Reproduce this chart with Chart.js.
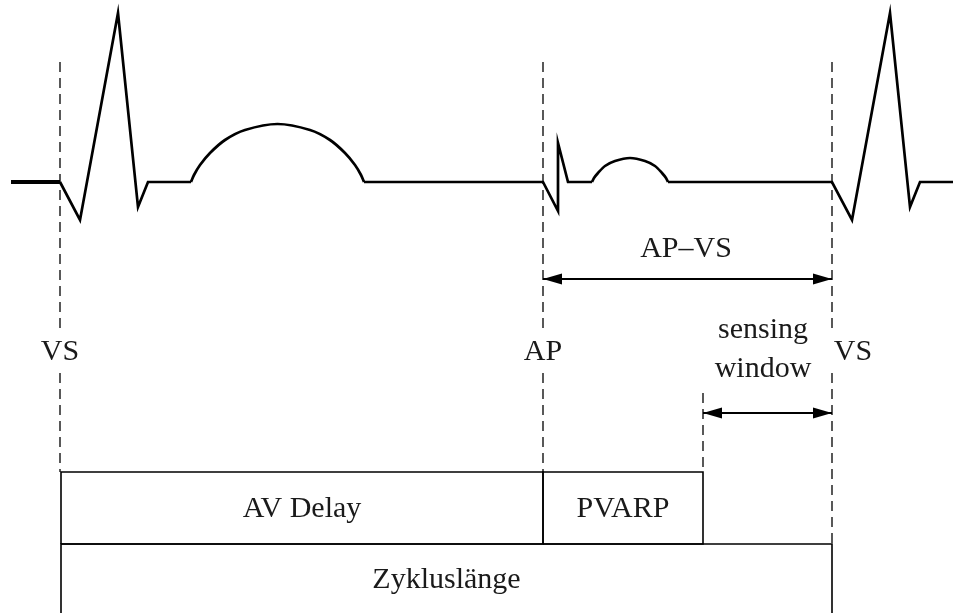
<!DOCTYPE html>
<html>
<head>
<meta charset="utf-8">
<script src="https://cdn.jsdelivr.net/npm/chart.js@4.4.1/dist/chart.umd.min.js"></script>
<style>
  html, body { margin: 0; padding: 0; background: #fff; }
  #wrap { width: 953px; height: 613px; }
</style>
</head>
<body>
<div id="wrap"><canvas id="c" width="953" height="613"></canvas></div>
<script>
// ---- Data (time units, origin at first VS; amplitude, baseline = 0) ----
const leadInT  = [-49, 0];
const leadInA  = [0, 0];
const qrs1T    = [0, 20, 58, 78, 88, 131];
const qrs1A    = [0, -38, 169, -25, 0, 0];
const tWaveT   = [131, 134, 140, 150, 165, 185, 217.5, 250, 270, 285, 295, 301, 304];
const tWaveA   = [0, 7, 17, 29, 42, 52, 58, 52, 42, 29, 17, 7, 0];
const apT      = [304, 483, 498, 498, 508, 532];
const apA      = [0, 0, -29, 39, 0, 0];
const pWaveT   = [532, 534, 538, 545, 555, 570, 585, 595, 602, 606, 608];
const pWaveA   = [0, 4, 9, 16, 21, 24, 21, 16, 9, 4, 0];
const qrs2T    = [608, 772, 792, 830, 850, 860, 893];
const qrs2A    = [0, 0, -38, 169, -25, 0, 0];

const eventNames = ['VS', 'AP', 'VS'];
const eventTimes = [0, 483, 772];
const eventLabelOffset = [0, 0, 21];
const eventLineBottom = [-290, -290, -362];
const eventLineTop = 120;
const eventGap = [-148, -191];
const eventLabelAmp = -178;

const pvarpEnd = 643;
const pvarpLineRange = [-211, -290];

const intervalNames = ['AV Delay', 'PVARP', 'Zykluslänge'];
const intervalStart = [1, 483, 1];
const intervalEnd   = [483, 643, 772];
const intervalRow   = [0, 0, 1];
const rowTop    = [-290, -362];
const rowBottom = [-362, -470];
const rowLabelAmp = [-335, -406];

const measureNames = [['AP–VS'], ['sensing', 'window']];
const measureStart = [483, 643];
const measureEnd   = [772, 772];
const measureAmp   = [-97, -231];
const measureLabelAmp = [[-75], [-156, -195]];
const measureLabelT = [626, 703];

// ---- Build datasets ----
const zip = (t, a) => t.map((v, i) => ({ x: v, y: a[i] }));
const ink = '#000';
const datasets = [];

datasets.push({ data: zip(leadInT, leadInA), borderColor: ink, borderWidth: 4, tension: 0 });
[[qrs1T, qrs1A], [apT, apA], [qrs2T, qrs2A]].forEach(([t, a]) =>
  datasets.push({ data: zip(t, a), borderColor: ink, borderWidth: 2.7, tension: 0 }));
[[tWaveT, tWaveA], [pWaveT, pWaveA]].forEach(([t, a]) =>
  datasets.push({ data: zip(t, a), borderColor: ink, borderWidth: 2.7, tension: 0.3 }));

// dashed event lines with a gap for the label
eventTimes.forEach((t, i) => {
  datasets.push({
    data: [{ x: t, y: eventLineTop }, { x: t, y: eventGap[0] }, { x: t, y: null },
           { x: t, y: eventGap[1] }, { x: t, y: eventLineBottom[i] }],
    borderColor: ink, borderWidth: 1.3, borderDash: [10, 6], spanGaps: false, tension: 0
  });
});
datasets.push({
  data: [{ x: pvarpEnd, y: pvarpLineRange[0] }, { x: pvarpEnd, y: pvarpLineRange[1] }],
  borderColor: ink, borderWidth: 1.3, borderDash: [10, 6], tension: 0
});

// interval boxes
intervalNames.forEach((n, i) => {
  const r = intervalRow[i], s = intervalStart[i], e = intervalEnd[i];
  datasets.push({
    data: [{ x: s, y: rowBottom[r] }, { x: s, y: rowTop[r] }, { x: e, y: rowTop[r] },
           { x: e, y: rowBottom[r] }, { x: s, y: rowBottom[r] }],
    borderColor: ink, borderWidth: 1.6, tension: 0
  });
});

// measurement arrow shafts
measureNames.forEach((n, i) => {
  datasets.push({
    data: [{ x: measureStart[i], y: measureAmp[i] }, { x: measureEnd[i], y: measureAmp[i] }],
    borderColor: ink, borderWidth: 1.8, tension: 0
  });
});

// ---- Plugin for arrowheads and text ----
const annot = {
  id: 'annot',
  afterDatasetsDraw(chart) {
    const ctx = chart.ctx, X = chart.scales.x, Y = chart.scales.y;
    ctx.save();
    ctx.fillStyle = ink;
    const head = (px, py, dir) => {
      const L = 19, W = 5.5;
      ctx.beginPath();
      ctx.moveTo(px, py);
      ctx.lineTo(px - dir * L, py - W);
      ctx.lineTo(px - dir * L, py + W);
      ctx.closePath();
      ctx.fill();
    };
    measureNames.forEach((n, i) => {
      const y = Y.getPixelForValue(measureAmp[i]);
      head(X.getPixelForValue(measureStart[i]), y, -1);
      head(X.getPixelForValue(measureEnd[i]), y, 1);
    });
    ctx.fillStyle = '#1a1a1a';
    ctx.font = '30px "Liberation Serif", "Times New Roman", serif';
    ctx.textAlign = 'center';
    ctx.textBaseline = 'alphabetic';
    eventNames.forEach((n, i) => {
      ctx.fillText(n, X.getPixelForValue(eventTimes[i] + eventLabelOffset[i]), Y.getPixelForValue(eventLabelAmp));
    });
    measureNames.forEach((lines, i) => {
      lines.forEach((s, j) => {
        ctx.fillText(s, X.getPixelForValue(measureLabelT[i]), Y.getPixelForValue(measureLabelAmp[i][j]));
      });
    });
    intervalNames.forEach((n, i) => {
      const cx = (intervalStart[i] + intervalEnd[i]) / 2;
      ctx.fillText(n, X.getPixelForValue(cx), Y.getPixelForValue(rowLabelAmp[intervalRow[i]]));
    });
    ctx.restore();
  }
};

new Chart(document.getElementById('c'), {
  type: 'line',
  data: { datasets },
  options: {
    responsive: false,
    devicePixelRatio: 1,
    animation: false,
    layout: { padding: 0 },
    elements: { point: { radius: 0, hoverRadius: 0 }, line: { fill: false, borderCapStyle: 'butt', borderJoinStyle: 'miter' } },
    plugins: { legend: { display: false }, tooltip: { enabled: false } },
    events: [],
    scales: {
      x: { type: 'linear', min: -60, max: 893, display: false },
      y: { type: 'linear', min: -431, max: 182, display: false }
    }
  },
  plugins: [annot]
});
</script>
</body>
</html>
